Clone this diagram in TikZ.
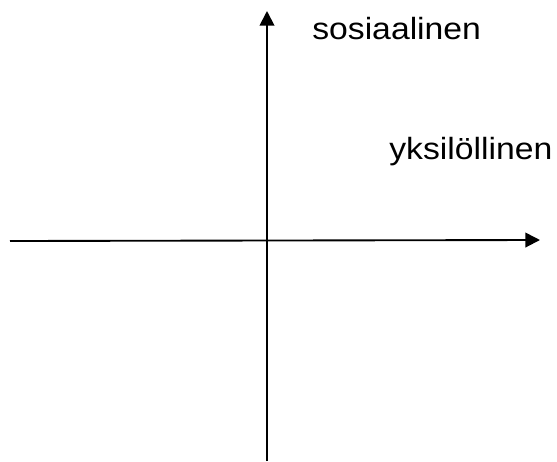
\documentclass[tikz,border=0pt]{standalone}
\usepackage{fontspec}
\setmainfont{Liberation Sans}
\usetikzlibrary{arrows.meta}

\begin{document}
\begin{tikzpicture}[x=0.75pt,y=-0.75pt]
  \tikzset{axis/.style={line width=1.4pt,-{Triangle[length=11pt,width=11pt]}},
    lbl/.style={font=\fontsize{23}{28}\selectfont,anchor=base west,inner sep=0pt}}
  \useasboundingbox (0,0) rectangle (557,461);
  \coordinate (ybot) at (267,461);
  \coordinate (ytop) at (267,11);
  \coordinate (xleft) at (10,241);
  \coordinate (xright) at (540,240);
  \draw[axis] (ybot) -- (ytop);
  \draw[axis] (xleft) -- (xright);
  \node[lbl] (soc) at (312,39) {\scalebox{1.1}[1]{sosiaalinen}};
  \node[lbl] (ind) at (389,159) {\scalebox{1.1}[1]{yksilöllinen}};
\end{tikzpicture}
\end{document}
